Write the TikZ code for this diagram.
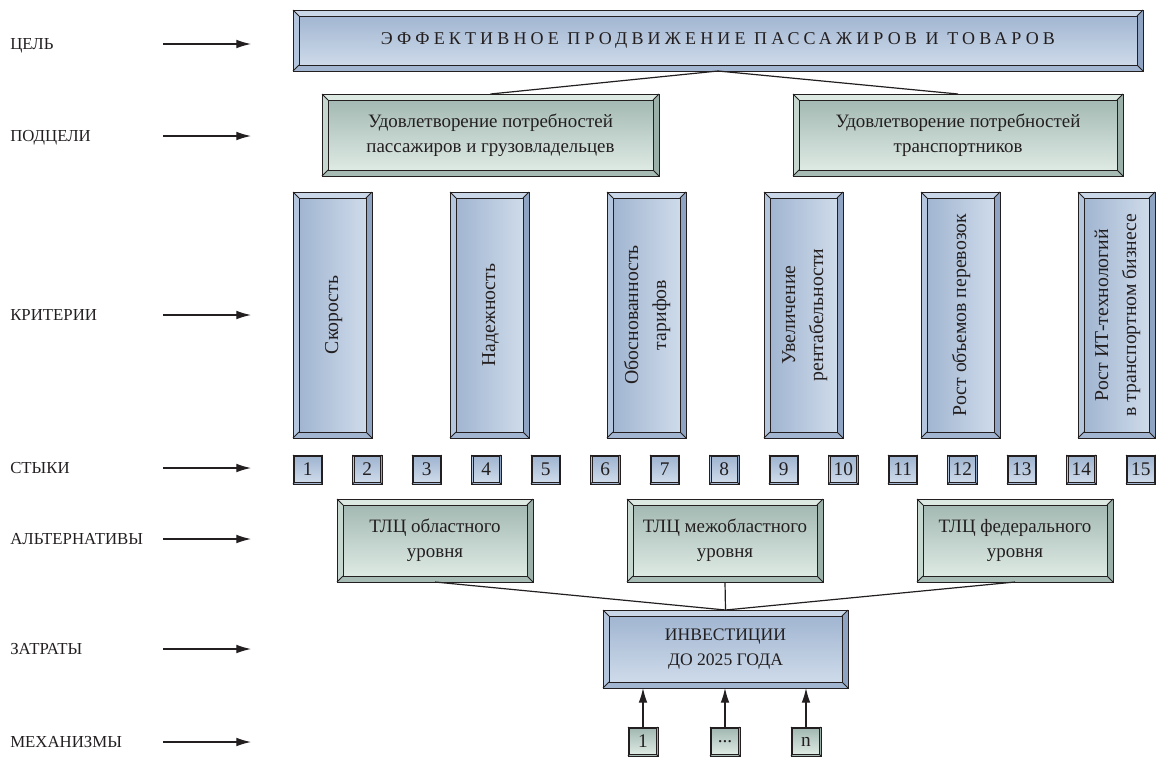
\documentclass[tikz,border=0pt]{standalone}
\usepackage{fontspec}
\setmainfont{Liberation Serif}
\usepackage{graphicx}
\usetikzlibrary{arrows.meta,calc}

\definecolor{bInA}{HTML}{9DB2CF}
\definecolor{bInB}{HTML}{D2DEEC}
\definecolor{bT}{HTML}{C9D7E8}
\definecolor{bL}{HTML}{B4C6DD}
\definecolor{bR}{HTML}{8FA4C3}
\definecolor{bB}{HTML}{A2B6D1}
\definecolor{gInA}{HTML}{9FB5AF}
\definecolor{gInB}{HTML}{E3EEE8}
\definecolor{gT}{HTML}{DCE8E2}
\definecolor{gL}{HTML}{C6D7D0}
\definecolor{gR}{HTML}{9AB0A9}
\definecolor{gB}{HTML}{A7BCB5}
\definecolor{ink}{HTML}{231F20}

\tikzset{
  boxbase/.style={inner sep=0pt, outer sep=0pt, text=ink, align=center},
  bluev/.style={boxbase, top color=bInA, bottom color=bInB},
  blueh/.style={boxbase, left color=bInA, right color=bInB},
  greenv/.style={boxbase, top color=gInA, bottom color=gInB},
  bline/.style={draw=ink, line width=0.75pt},
  conn/.style={draw=ink, line width=0.9pt},
  arr/.style={draw=ink, line width=0.9pt, -{Latex[length=11pt,width=6.5pt]}},
  lbl/.style={inner sep=0pt, text=ink, font=\fontsize{12.6}{14}\selectfont, anchor=base west},
  boxtxt/.style={font=\fontsize{14.2}{19}\selectfont},
  invtxt/.style={font=\fontsize{13.2}{19}\selectfont},
  numtxt/.style={font=\fontsize{14.5}{16}\selectfont}
}

\newcommand{\mybox}[7]{%
  \node[#6, minimum width={(#4-#2)*0.75pt}, minimum height={(#5-#3)*0.75pt}] (#1) at ({(#2+#4)/2},{(#3+#5)/2}) {#7};
}
\newcommand{\bevelit}[6]{%
  \coordinate (#1-a) at ([shift={(#2,#2)}]#1.north west);
  \coordinate (#1-b) at ([shift={(-#2,#2)}]#1.north east);
  \coordinate (#1-c) at ([shift={(-#2,-#2)}]#1.south east);
  \coordinate (#1-d) at ([shift={(#2,-#2)}]#1.south west);
  \fill[#3] (#1.north west) -- (#1.north east) -- (#1-b) -- (#1-a) -- cycle;
  \fill[#4] (#1.north west) -- (#1-a) -- (#1-d) -- (#1.south west) -- cycle;
  \fill[#5] (#1.north east) -- (#1.south east) -- (#1-c) -- (#1-b) -- cycle;
  \fill[#6] (#1.south west) -- (#1-d) -- (#1-c) -- (#1.south east) -- cycle;
  \draw[bline] (#1-a) rectangle (#1-c);
  \draw[bline] (#1.north west) -- (#1-a) (#1.north east) -- (#1-b) (#1.south east) -- (#1-c) (#1.south west) -- (#1-d);
  \draw[bline] (#1.north west) rectangle (#1.south east);
}
\newcommand{\vtext}[1]{\rotatebox{90}{\fontsize{14.8}{21}\selectfont\begin{tabular}{@{}c@{}}#1\end{tabular}}}

\begin{document}
\begin{tikzpicture}[x=0.75pt,y=-0.75pt]
\useasboundingbox (0,0) rectangle (1156,758);

% left labels
\foreach \nm/\yy/\tx in {l1/44/ЦЕЛЬ, l2/136/ПОДЦЕЛИ, l3/315/КРИТЕРИИ, l4/468/СТЫКИ, l5/539/АЛЬТЕРНАТИВЫ, l6/649/ЗАТРАТЫ, l7/742/МЕХАНИЗМЫ}{
  \node[lbl] (\nm) at (10,\yy+5.5) {\tx};
  \coordinate (\nm-s) at (163,\yy);
  \coordinate (\nm-e) at (251,\yy);
  \draw[arr] (\nm-s) -- (\nm-e);
}

% goal
\mybox{goal}{293}{10}{1143}{71}{bluev}{\fontsize{13.5}{15}\selectfont\addfontfeature{LetterSpace=23}ЭФФЕКТИВНОЕ ПРОДВИЖЕНИЕ ПАССАЖИРОВ И ТОВАРОВ}
\bevelit{goal}{6}{bT}{bL}{bR}{bB}

% subgoals
\mybox{sg1}{322}{94}{659}{176}{greenv,boxtxt}{Удовлетворение потребностей\\пассажиров и грузовладельцев}
\bevelit{sg1}{6}{gT}{gL}{gR}{gB}
\mybox{sg2}{793}{94}{1123}{176}{greenv,boxtxt}{Удовлетворение потребностей\\транспортников}
\bevelit{sg2}{6}{gT}{gL}{gR}{gB}

\draw[conn] (sg1.north) -- (goal.south) -- (sg2.north);

% criteria
\mybox{c1}{293}{192}{372}{438}{blueh}{\vtext{Скорость}}
\bevelit{c1}{6}{bT}{bL}{bR}{bB}
\mybox{c2}{450}{192}{529}{438}{blueh}{\vtext{Надежность}}
\bevelit{c2}{6}{bT}{bL}{bR}{bB}
\mybox{c3}{607}{192}{686}{438}{blueh}{\vtext{Обоснованность\\тарифов}}
\bevelit{c3}{6}{bT}{bL}{bR}{bB}
\mybox{c4}{764}{192}{843}{438}{blueh}{\vtext{Увеличение\\рентабельности}}
\bevelit{c4}{6}{bT}{bL}{bR}{bB}
\mybox{c5}{921}{192}{1000}{438}{blueh}{\vtext{Рост объемов перевозок}}
\bevelit{c5}{6}{bT}{bL}{bR}{bB}
\mybox{c6}{1078}{192}{1155}{438}{blueh}{\vtext{Рост ИТ-технологий\\в транспортном бизнесе}}
\bevelit{c6}{6}{bT}{bL}{bR}{bB}

% joints
\foreach \i in {1,...,15}{
  \pgfmathsetmacro\xa{293+(\i-1)*59.5}
  \pgfmathsetmacro\xb{\xa+29.5}
  \mybox{n\i}{\xa}{455}{\xb}{484}{bluev,numtxt}{\i}
  \bevelit{n\i}{1.5}{bT}{bL}{bR}{bB}
}

% alternatives
\mybox{a1}{337}{499}{533}{582}{greenv,boxtxt}{ТЛЦ областного\\уровня}
\bevelit{a1}{6}{gT}{gL}{gR}{gB}
\mybox{a2}{627}{499}{823}{582}{greenv,boxtxt}{ТЛЦ межобластного\\уровня}
\bevelit{a2}{6}{gT}{gL}{gR}{gB}
\mybox{a3}{917}{499}{1113}{582}{greenv,boxtxt}{ТЛЦ федерального\\уровня}
\bevelit{a3}{6}{gT}{gL}{gR}{gB}

% investments
\mybox{inv}{603}{610}{848}{688}{bluev,invtxt}{ИНВЕСТИЦИИ\\ДО 2025 ГОДА}
\bevelit{inv}{6}{bT}{bL}{bR}{bB}

\draw[conn] (a1.south) -- (inv.north);
\draw[conn] (a2.south) -- (inv.north);
\draw[conn] (a3.south) -- (inv.north);

% mechanisms
\mybox{m1}{628}{727}{658}{756}{greenv,numtxt}{1}
\bevelit{m1}{1.5}{gT}{gL}{gR}{gB}
\mybox{m2}{710}{727}{740}{756}{greenv,numtxt}{...}
\bevelit{m2}{1.5}{gT}{gL}{gR}{gB}
\mybox{m3}{791}{727}{821}{756}{greenv,numtxt}{n}
\bevelit{m3}{1.5}{gT}{gL}{gR}{gB}

\draw[arr] (m1.north) -- (m1.north |- inv.south);
\draw[arr] (m2.north) -- (m2.north |- inv.south);
\draw[arr] (m3.north) -- (m3.north |- inv.south);
\end{tikzpicture}
\end{document}
